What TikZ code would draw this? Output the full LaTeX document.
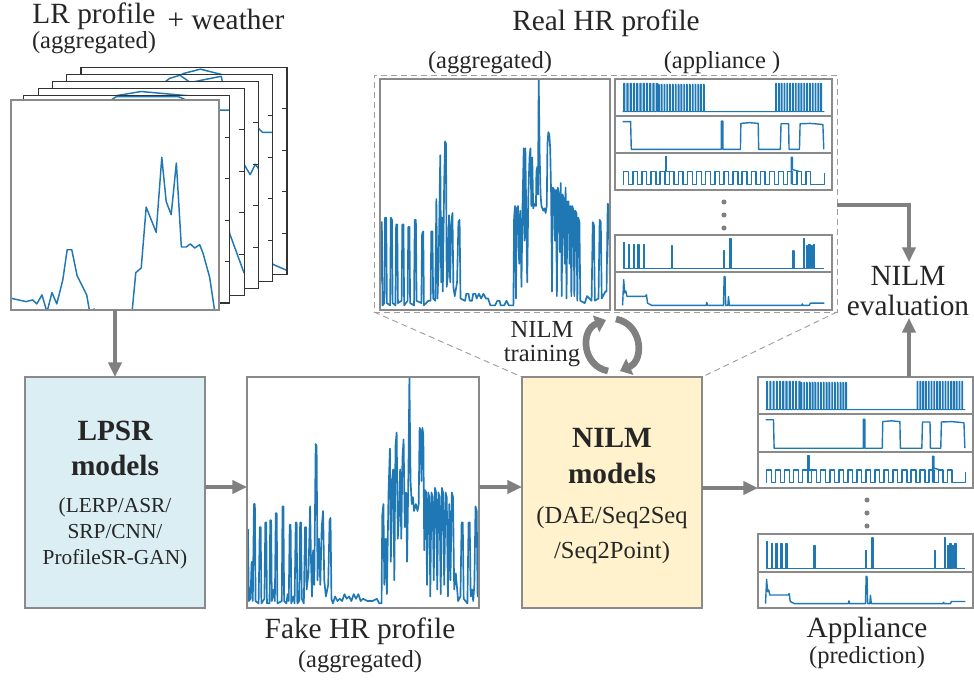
\documentclass[tikz,border=0pt]{standalone}
\usepackage{fontspec}
\setmainfont{Liberation Serif}
\usetikzlibrary{arrows.meta}
\definecolor{pblue}{HTML}{1F77B4}
\definecolor{agray}{HTML}{808080}
\definecolor{fgray}{HTML}{8A8A8A}
\definecolor{tdark}{HTML}{262626}
\definecolor{lpsrfill}{HTML}{DAEEF3}
\definecolor{nilmfill}{HTML}{FFF2CC}
\tikzset{
  plotline/.style={pblue, line width=1.1pt, line join=round},
  aggline/.style={pblue, line width=1.25pt, line join=round},
  aline/.style={pblue, line width=1.05pt, line join=round},
  thinline/.style={pblue, line width=0.75pt, line join=round},
  pframe/.style={draw=fgray, line width=0.8pt, fill=white, inner sep=0pt, outer sep=0pt, rectangle},
  backfr/.style={draw=black!80, line width=0.8pt, fill=white, inner sep=0pt, outer sep=0pt, rectangle},
  backfrline/.style={draw=black!80, line width=0.8pt},
  tickl/.style={black!80, line width=0.6pt},
  flow/.style={draw=agray, line width=2.3pt, -{Triangle[length=11pt,width=10pt]}},
  cyc/.style={draw=agray, line width=5pt, -{Triangle[length=8pt,width=13pt]}},
  txt/.style={text=tdark, inner sep=0pt, anchor=base},
  tbig/.style={txt, font=\fontsize{22}{26}\selectfont},
  tmid/.style={txt, font=\fontsize{18.4}{22}\selectfont},
  tsmall/.style={txt, font=\fontsize{16}{19}\selectfont},
  tbold/.style={txt, font=\fontsize{22}{26}\selectfont\bfseries},
  dotc/.style={circle, fill=agray, inner sep=0pt, minimum size=3.8pt},
  dashb/.style={draw=gray!75, dash pattern=on 4.5pt off 3pt, line width=0.7pt, inner sep=0pt, outer sep=0pt, rectangle},
  modelbox/.style={draw=fgray, line width=0.8pt, inner sep=0pt, outer sep=0pt, rectangle, minimum width=135pt, minimum height=173.25pt, anchor=north west},
}
\newcommand\pplot[6]{%
  \pgfmathsetmacro\pw{(#4-#2)*0.75}%
  \pgfmathsetmacro\ph{(#5-#3)*0.75}%
  \node[pframe, anchor=north west, minimum width=\pw pt, minimum height=\ph pt] (#1) at (#2,#3) {};
  \begin{scope}
    \clip (#1.south west) rectangle (#1.north east);
    \begin{scope}[shift={(#1.south west)}, x={(\pw pt,0pt)}, y={(0pt,\ph pt)}]
      #6
    \end{scope}
  \end{scope}
  \draw[draw=fgray, line width=0.8pt] (#1.south west) rectangle (#1.north east);
}
\newcommand\lrback[2]{%
  \pgfmathsetmacro\bx{9.5+14.3*#1}%
  \pgfmathsetmacro\by{102.6-7.1*#1}%
  \node[backfr, anchor=north west, minimum width=154.5pt, minimum height=155.6pt] (lr#1) at (\bx,\by) {};
  \begin{scope}
    \clip (lr#1.south west) rectangle (lr#1.north east);
    \begin{scope}[shift={(lr#1.south west)}, x={(154.5pt,0pt)}, y={(0pt,155.6pt)}]
      \draw[plotline] plot coordinates {#2};
      \foreach \t in {0.2,0.4,0.6,0.8} {\draw[tickl] (1,\t) -- (0.975,\t);}
    \end{scope}
  \end{scope}
  \draw[backfrline] (lr#1.south west) rectangle (lr#1.north east);
}
\newcommand\rowA{%
  \draw[thinline] (0.035,0.12)
   \foreach \x in {0.04,0.055,...,0.19}{ -- (\x,0.12) -- (\x,0.88) -- ({\x+0.005},0.88) -- ({\x+0.005},0.12)}
   \foreach \x in {0.2,0.213,...,0.41}{ -- (\x,0.12) -- (\x,0.86) -- ({\x+0.004},0.84) -- ({\x+0.004},0.12)}
   -- (0.735,0.12)
   \foreach \x in {0.74,0.753,...,0.955}{ -- (\x,0.12) -- (\x,0.88) -- ({\x+0.004},0.88) -- ({\x+0.004},0.12)}
   -- (0.965,0.12);}
\newcommand\rowB{%
  \draw[aline] (0.035,0.85) -- (0.072,0.85) -- (0.075,0.1) -- (0.49,0.1) -- (0.49,0.86) -- (0.497,0.86) -- (0.497,0.1) -- (0.578,0.1) -- (0.58,0.8) -- (0.62,0.82) -- (0.66,0.8) -- (0.662,0.1) -- (0.762,0.1) -- (0.765,0.79) -- (0.8,0.79) -- (0.802,0.1) -- (0.85,0.1) -- (0.853,0.79) -- (0.9,0.8) -- (0.958,0.77) -- (0.962,0.1);}
\newcommand\rowC{%
  \draw[aline] (0.035,0.15)
   \foreach \x in {0.04,0.082,...,0.92}{ -- (\x,0.15) -- (\x,0.5) -- ({\x+0.022},0.5) -- ({\x+0.022},0.15)}
   -- (0.965,0.15) -- (0.965,0.45);
  \draw[aline] (0.232,0.15) -- (0.232,0.9) -- (0.238,0.9) -- (0.238,0.5) -- (0.26,0.5);
  \draw[aline] (0.812,0.15) -- (0.812,0.88) -- (0.818,0.88) -- (0.818,0.55) -- (0.85,0.5);}
\newcommand\rowD{%
  \draw[aline] (0.035,0.1)
   \foreach \x/\h in {0.04/0.8,0.062/0.75,0.084/0.75,0.106/0.75,0.13/0.75,0.26/0.7,0.5/0.57,0.53/0.9,0.82/0.57,0.868/0.9,0.882/0.7,0.893/0.75,0.904/0.7,0.915/0.75}{ -- (\x,0.1) -- (\x,\h) -- ({\x+0.005},\h) -- ({\x+0.005},0.1)}
   -- (0.965,0.1);}
\newcommand\rowE{%
  \draw[aline] (0.035,0.12) -- (0.04,0.8) -- (0.045,0.45) -- (0.05,0.5) -- (0.055,0.36) -- (0.14,0.36) -- (0.145,0.4) -- (0.15,0.18) -- (0.17,0.12) -- (0.42,0.12) -- (0.423,0.2) -- (0.426,0.12) -- (0.5,0.12) -- (0.503,0.88) -- (0.507,0.88) -- (0.51,0.12) -- (0.52,0.12) -- (0.523,0.35) -- (0.527,0.12) -- (0.86,0.12) -- (0.863,0.16) -- (0.866,0.12) -- (0.895,0.12) -- (0.9,0.18) -- (0.965,0.18);}
\newcommand\realagg{%
  \draw[aggline] plot coordinates {(0,0.03)(0.003,0.38)(0.008,0.38)(0.011,0.02)(0.019,0.03)(0.022,0.40)(0.027,0.40)(0.03,0.03)(0.044,0.02)(0.047,0.40)(0.052,0.39)(0.055,0.03)(0.067,0.02)(0.07,0.37)(0.075,0.37)(0.078,0.03)(0.094,0.04)(0.097,0.37)(0.102,0.37)(0.105,0.02)(0.12,0.04)(0.123,0.36)(0.128,0.36)(0.131,0.03)(0.148,0.02)(0.151,0.39)(0.156,0.39)(0.159,0.04)(0.18,0.03)(0.183,0.33)(0.188,0.34)(0.191,0.02)(0.21,0.04)(0.22,0.04)(0.223,0.34)(0.228,0.34)(0.231,0.05)(0.24,0.04)(0.245,0.48)(0.25,0.05)(0.255,0.2)(0.262,0.67)(0.266,0.12)(0.27,0.4)(0.273,0.08)(0.279,0.55)(0.283,0.73)(0.287,0.72)(0.29,0.1)(0.295,0.15)(0.3,0.41)(0.305,0.12)(0.31,0.38)(0.315,0.42)(0.319,0.1)(0.325,0.06)(0.335,0.12)(0.341,0.38)(0.346,0.39)(0.35,0.05)(0.37,0.04)(0.375,0.07)(0.385,0.07)(0.39,0.04)(0.4,0.04)(0.405,0.07)(0.415,0.07)(0.42,0.05)(0.43,0.07)(0.44,0.05)(0.45,0.07)(0.46,0.05)(0.47,0.05)(0.48,0.02)(0.5,0.02)(0.51,0.04)(0.52,0.04)(0.525,0.02)(0.54,0.02)(0.55,0.04)(0.56,0.02)(0.58,0.02)(0.583,0.4)(0.587,0.45)(0.591,0.05)(0.595,0.44)(0.6,0.45)(0.605,0.2)(0.61,0.43)(0.615,0.1)(0.62,0.47)(0.625,0.7)(0.628,0.3)(0.632,0.7)(0.636,0.4)(0.64,0.12)(0.645,0.5)(0.65,0.66)(0.654,0.7)(0.658,0.45)(0.662,0.66)(0.666,0.44)(0.672,0.46)(0.678,0.45)(0.68,0.6)(0.684,0.62)(0.687,0.5)(0.69,1.0)(0.694,0.68)(0.698,0.5)(0.702,0.45)(0.71,0.43)(0.715,0.44)(0.72,0.42)(0.725,0.45)(0.728,0.72)(0.732,0.77)(0.736,0.76)(0.74,0.7)(0.744,0.5)(0.748,0.08)(0.751,0.53)(0.757,0.52)(0.761,0.3)(0.765,0.52)(0.769,0.06)(0.773,0.53)(0.778,0.5)(0.782,0.25)(0.786,0.55)(0.79,0.06)(0.794,0.5)(0.799,0.48)(0.803,0.2)(0.807,0.53)(0.811,0.05)(0.815,0.47)(0.82,0.47)(0.824,0.2)(0.828,0.45)(0.832,0.06)(0.836,0.45)(0.841,0.43)(0.845,0.06)(0.849,0.43)(0.854,0.42)(0.858,0.04)(0.862,0.4)(0.867,0.38)(0.871,0.04)(0.89,0.03)(0.9,0.06)(0.92,0.04)(0.925,0.38)(0.93,0.37)(0.934,0.04)(0.95,0.05)(0.955,0.39)(0.96,0.38)(0.964,0.05)(0.98,0.08)(0.985,0.08)(0.99,0.46)(0.995,0.45)(1,0.1)};}
\newcommand\fakeagg{%
  \draw[aggline] plot coordinates {(0,0.3)(0.004,0.34)(0.008,0.03)(0.015,0.04)(0.02,0.2)(0.025,0.03)(0.03,0.45)(0.034,0.45)(0.037,0.03)(0.05,0.02)(0.055,0.35)(0.059,0.35)(0.062,0.02)(0.075,0.04)(0.079,0.37)(0.083,0.37)(0.086,0.02)(0.097,0.02)(0.1,0.38)(0.104,0.38)(0.107,0.03)(0.115,0.08)(0.12,0.03)(0.124,0.41)(0.128,0.41)(0.131,0.02)(0.15,0.03)(0.153,0.44)(0.157,0.44)(0.16,0.03)(0.17,0.02)(0.175,0.06)(0.18,0.03)(0.184,0.36)(0.188,0.36)(0.191,0.02)(0.2,0.05)(0.205,0.02)(0.21,0.37)(0.214,0.37)(0.217,0.02)(0.225,0.03)(0.229,0.37)(0.233,0.37)(0.236,0.04)(0.245,0.02)(0.25,0.35)(0.254,0.35)(0.257,0.08)(0.265,0.15)(0.272,0.44)(0.276,0.2)(0.28,0.05)(0.285,0.25)(0.29,0.1)(0.296,0.71)(0.3,0.7)(0.304,0.12)(0.31,0.3)(0.316,0.1)(0.322,0.35)(0.328,0.42)(0.333,0.12)(0.34,0.05)(0.35,0.1)(0.356,0.38)(0.36,0.39)(0.364,0.04)(0.37,0.02)(0.38,0.05)(0.39,0.03)(0.4,0.04)(0.41,0.03)(0.42,0.06)(0.43,0.04)(0.44,0.05)(0.45,0.03)(0.46,0.06)(0.47,0.04)(0.48,0.06)(0.49,0.03)(0.5,0.04)(0.52,0.03)(0.54,0.03)(0.56,0.04)(0.57,0.02)(0.58,0.02)(0.583,0.4)(0.588,0.45)(0.592,0.1)(0.598,0.3)(0.603,0.06)(0.61,0.5)(0.616,0.69)(0.62,0.2)(0.625,0.55)(0.63,0.6)(0.635,0.12)(0.64,0.7)(0.645,0.76)(0.65,0.3)(0.655,0.4)(0.66,0.6)(0.665,0.3)(0.67,0.65)(0.675,0.73)(0.68,0.35)(0.686,0.5)(0.69,0.2)(0.696,0.6)(0.7,1.0)(0.705,0.55)(0.71,0.45)(0.715,0.48)(0.72,0.42)(0.728,0.45)(0.735,0.42)(0.74,0.45)(0.744,0.78)(0.748,0.77)(0.752,0.55)(0.756,0.78)(0.76,0.75)(0.764,0.25)(0.768,0.51)(0.772,0.5)(0.776,0.1)(0.781,0.5)(0.786,0.48)(0.79,0.05)(0.795,0.5)(0.8,0.48)(0.805,0.12)(0.81,0.52)(0.815,0.5)(0.82,0.08)(0.825,0.5)(0.83,0.48)(0.835,0.06)(0.84,0.52)(0.845,0.5)(0.85,0.1)(0.856,0.5)(0.861,0.48)(0.866,0.05)(0.872,0.45)(0.877,0.12)(0.883,0.5)(0.888,0.48)(0.893,0.08)(0.9,0.15)(0.91,0.03)(0.92,0.05)(0.925,0.37)(0.93,0.37)(0.934,0.04)(0.95,0.02)(0.955,0.37)(0.96,0.37)(0.964,0.05)(0.97,0.08)(0.975,0.03)(0.98,0.1)(0.985,0.44)(0.99,0.42)(0.994,0.05)(1,0.1)};}
\begin{document}
\begin{tikzpicture}[x=0.75pt, y=-0.75pt]
\useasboundingbox (0,0) rectangle (974,682);

% ---------- LR profile stack ----------
\lrback{5}{(0,0.7)(0.5,0.97)(0.58,0.99)(0.7,0.96)(0.85,0.5)(0.93,0.05)(1,0.02)}
\lrback{4}{(0,0.6)(0.5,0.98)(0.55,0.995)(0.6,0.96)(0.75,0.99)(0.77,0.9)(0.92,0.75)(0.95,0.72)(1,0.72)}
\lrback{3}{(0,0.5)(0.4,0.9)(0.7,0.85)(0.93,0.6)(0.96,0.55)(0.985,0.6)(1,0.58)}
\lrback{2}{(0,0.6)(0.35,0.96)(0.5,0.985)(0.78,0.96)(0.88,0.7)(0.93,0.3)(1,0.11)}
\lrback{1}{(0,0.5)(0.3,0.9)(0.45,0.995)(0.75,0.995)(0.85,0.95)(0.93,0.93)(1,0.93)}
\pplot{lr0}{11}{100}{219}{310}{\draw[plotline] plot coordinates {(0,0.056)(0.072,0.04)(0.104,0.048)(0.124,0.029)(0.149,0.072)(0.173,-0.01)(0.197,0.083)(0.22,0.029)(0.249,0.143)(0.27,0.287)(0.292,0.287)(0.318,0.163)(0.364,0.072)(0.38,-0.02)(0.4,0.005)(0.41,-0.03)(0.58,-0.03)(0.6,0.178)(0.626,0.2)(0.65,0.49)(0.698,0.37)(0.725,0.727)(0.746,0.517)(0.77,0.454)(0.795,0.70)(0.819,0.3)(0.843,0.3)(0.862,0.315)(0.883,0.295)(0.907,0.311)(0.923,0.271)(0.955,0.156)(0.98,-0.01)};}

\node[tbig] (lrt) at (94,23) {LR profile};
\node[tmid] (lrs) at (94,48) {(aggregated)};
\node[tbig] (wt) at (226,29) {+ weather};

% ---------- Real HR profile ----------
\node[dashb, anchor=north west, minimum width=347.25pt, minimum height=177.75pt] (realbox) at (374,75) {};
\pplot{realagg}{380}{79}{610}{310}{\realagg}
\pplot{ra1}{615}{79}{832}{116}{\rowA}
\pplot{ra2}{615}{116}{832}{153}{\rowB}
\pplot{ra3}{615}{153}{832}{190}{\rowC}
\pplot{ra4}{615}{235}{832}{272}{\rowD}
\pplot{ra5}{615}{272}{832}{310}{\rowE}
\node[dotc] (rd1) at (724,202) {};
\node[dotc] (rd2) at (724,215) {};
\node[dotc] (rd3) at (724,228) {};

\node[tbig] (realt) at (606,30) {Real HR profile};
\node[tmid] (reals1) at (490,68) {(aggregated)};
\node[tmid] (reals2) at (722,68) {(appliance )};

% ---------- model boxes ----------
\node[modelbox, fill=lpsrfill] (lpsr) at (25,377) {};
\node[modelbox, fill=nilmfill] (nilm) at (522,377) {};

\node[tbold] (lp1) at (115,440) {LPSR};
\node[tbold] (lp2) at (115,475) {models};
\node[tsmall] (lp3) at (115,512) {(LERP/ASR/};
\node[tsmall] (lp4) at (115,538) {SRP/CNN/};
\node[tsmall] (lp5) at (115,564) {ProfileSR-GAN)};

\node[tbold] (nm1) at (612,447) {NILM};
\node[tbold] (nm2) at (612,483) {models};
\node[tmid] (nm3) at (612,523) {(DAE/Seq2Seq};
\node[tmid] (nm4) at (612,558) {/Seq2Point)};

% ---------- Fake HR profile ----------
\pplot{fake}{247}{377}{479}{608}{\fakeagg}
\node[tbig] (fkt) at (360,638) {Fake HR profile};
\node[tmid] (fks) at (360,667) {(aggregated)};

% ---------- Appliance prediction ----------
\pplot{pa1}{758}{377}{973}{414}{\rowA}
\pplot{pa2}{758}{414}{973}{452}{\rowB}
\pplot{pa3}{758}{452}{973}{488}{\rowC}
\pplot{pa4}{758}{534}{973}{572}{\rowD}
\pplot{pa5}{758}{572}{973}{608}{\rowE}
\node[dotc] (pd1) at (867,500) {};
\node[dotc] (pd2) at (867,513) {};
\node[dotc] (pd3) at (867,526) {};
\node[tbig] (apt) at (867,637) {Appliance};
\node[tmid] (aps) at (867,663) {(prediction)};

% ---------- NILM evaluation ----------
\node[tbig] (ev1) at (908,285) {NILM};
\node[tbig] (ev2) at (908,315) {evaluation};
\coordinate (evtop) at (909,262);
\coordinate (evbot) at (909,318);

% ---------- NILM training ----------
\node[tmid] (tr1) at (542,337) {NILM};
\node[tmid] (tr2) at (542,361) {training};
\coordinate (c1s) at (608,371);
\coordinate (c1e) at (606,320);
\coordinate (c2s) at (616,319);
\coordinate (c2e) at (620,371);
\draw[cyc] (c1s) .. controls (582,366) and (580,330) .. (c1e);
\draw[cyc] (c2s) .. controls (642,324) and (645,360) .. (c2e);

% ---------- dashed zoom lines ----------
\draw[draw=gray!75, dash pattern=on 4.5pt off 3pt, line width=0.7pt] (realbox.south west) -- (nilm.north west);
\draw[draw=gray!75, dash pattern=on 4.5pt off 3pt, line width=0.7pt] (realbox.south east) -- (nilm.north east);

% ---------- flow arrows ----------
\coordinate (mainrow) at (0,487);
\draw[flow] (lr0.south) -- (lpsr.north);
\draw[flow] (lpsr.east |- mainrow) -- (fake.west |- mainrow);
\draw[flow] (fake.east |- mainrow) -- (nilm.west |- mainrow);
\draw[flow] (nilm.east |- pa3.south west) -- (pa3.south west);
\draw[flow] (pa1.north -| evbot) -- (evbot);
\draw[flow] ([yshift=-8.6pt]realbox.east) -| (evtop);
\end{tikzpicture}
\end{document}
